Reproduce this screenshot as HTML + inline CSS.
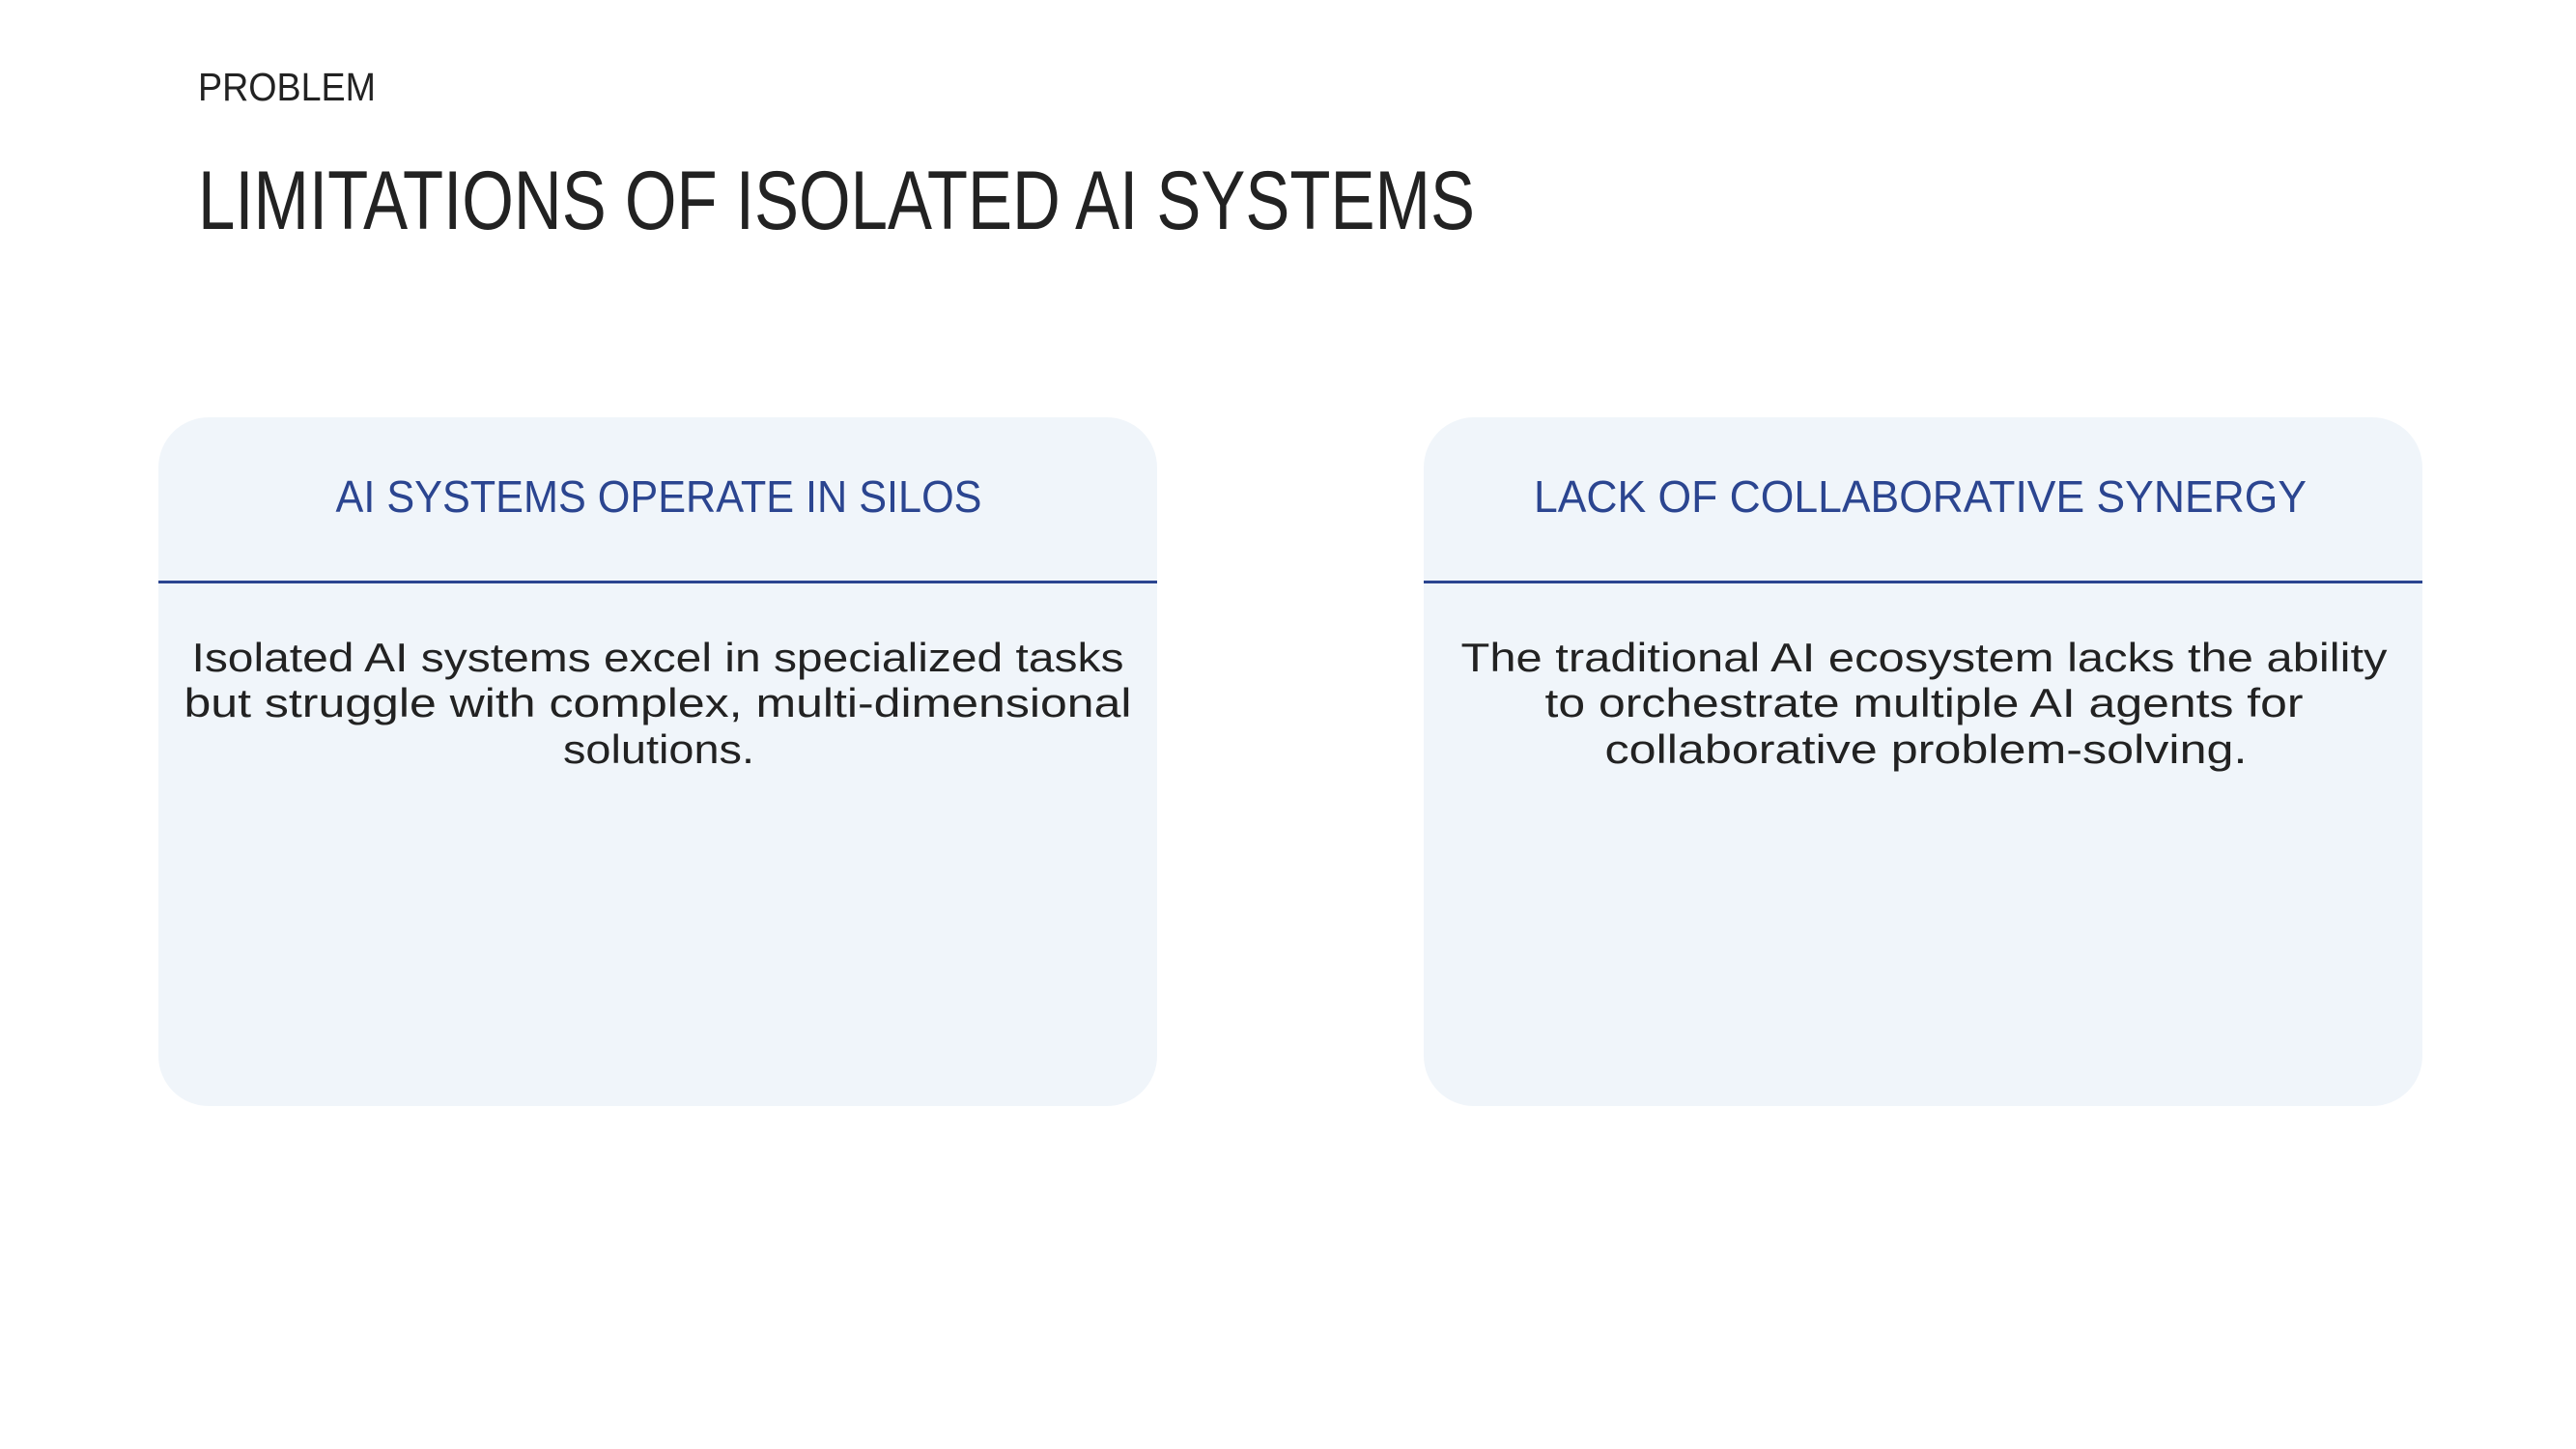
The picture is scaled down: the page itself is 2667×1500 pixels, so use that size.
<!DOCTYPE html>
<html><head><meta charset="utf-8"><style>html,body{margin:0;padding:0;background:#fff}svg{display:block}</style></head>
<body>
<svg width="2667" height="1500" viewBox="0 0 2667 1500" xmlns="http://www.w3.org/2000/svg" font-family="Liberation Sans, sans-serif">
<rect width="2667" height="1500" fill="#fff"/>
<text x="205" y="104" font-size="41" fill="#222" textLength="184" lengthAdjust="spacingAndGlyphs">PROBLEM</text>
<text x="205" y="237" font-size="86" fill="#222" textLength="1322" lengthAdjust="spacingAndGlyphs">LIMITATIONS OF ISOLATED AI SYSTEMS</text>

<rect x="164" y="432" width="1034" height="713" rx="52" fill="#f0f5fa"/>
<rect x="164" y="601" width="1034" height="3" fill="#2b4590"/>
<text x="682" y="530" font-size="46" fill="#2b4590" text-anchor="middle" textLength="669" lengthAdjust="spacingAndGlyphs">AI SYSTEMS OPERATE IN SILOS</text>
<g font-size="42" fill="#222" text-anchor="middle">
<text x="681" y="695" textLength="965" lengthAdjust="spacingAndGlyphs">Isolated AI systems excel in specialized tasks</text>
<text x="681" y="742" textLength="981" lengthAdjust="spacingAndGlyphs">but struggle with complex, multi-dimensional</text>
<text x="682" y="790" textLength="198" lengthAdjust="spacingAndGlyphs">solutions.</text>
</g>

<rect x="1474" y="432" width="1034" height="713" rx="52" fill="#f0f5fa"/>
<rect x="1474" y="601" width="1034" height="3" fill="#2b4590"/>
<text x="1988" y="530" font-size="46" fill="#2b4590" text-anchor="middle" textLength="800" lengthAdjust="spacingAndGlyphs">LACK OF COLLABORATIVE SYNERGY</text>
<g font-size="42" fill="#222" text-anchor="middle">
<text x="1992" y="695" textLength="959" lengthAdjust="spacingAndGlyphs">The traditional AI ecosystem lacks the ability</text>
<text x="1992" y="742" textLength="785" lengthAdjust="spacingAndGlyphs">to orchestrate multiple AI agents for</text>
<text x="1994" y="790" textLength="665" lengthAdjust="spacingAndGlyphs">collaborative problem-solving.</text>
</g>
</svg>
</body></html>
